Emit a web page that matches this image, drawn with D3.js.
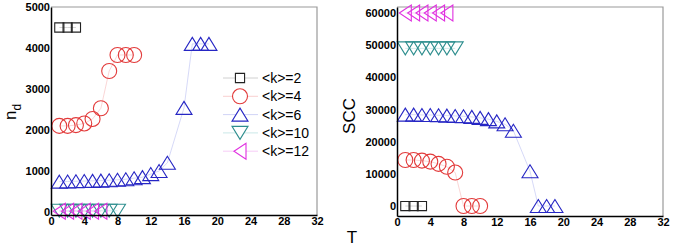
<!DOCTYPE html>
<html>
<head>
<meta charset="utf-8">
<script src="https://cdn.jsdelivr.net/npm/d3@7"></script>
<style>
  body { margin: 0; background: #fff; }
  svg { display: block; font-family: "Liberation Sans", Arial, sans-serif; }
</style>
</head>
<body>
<div id="chart"></div>
<script>
// series labels
const seriesNames = ["<k>=2", "<k>=4", "<k>=6", "<k>=10", "<k>=12"];

// time steps per series
const tK2 = [1, 2, 3];
const tK4 = [1, 2, 3, 4, 5, 6, 7, 8, 9, 10];
const tK6 = [1, 2, 3, 4, 5, 6, 7, 8, 9, 10, 11, 12, 13, 14, 16, 17, 18, 19];
const tK10left = [1, 2, 3, 4, 5, 6, 7, 8];
const tK10right = [1, 2, 3, 4, 5, 6, 7];
const tK12 = [1, 2, 3, 4, 5, 6];

// left panel: n_d
const ndK2 = [4500, 4500, 4500];
const ndK4 = [2100, 2100, 2120, 2160, 2270, 2530, 3440, 3830, 3830, 3830];
const ndK6 = [740, 745, 750, 755, 760, 765, 775, 785, 800, 825, 850, 925, 1000, 1200, 2540, 4100, 4100, 4100];
const ndK10 = [30, 30, 30, 30, 30, 30, 30, 30];
const ndK12 = [20, 20, 20, 20, 20, 20];

// right panel: SCC
const sccK2 = [0, 0, 0];
const sccK4 = [14300, 14300, 14100, 13800, 13100, 12200, 10400, 0, 0, 0];
const sccK6 = [28400, 28400, 28300, 28300, 28200, 28100, 28000, 27900, 27700, 27400, 27000, 26300, 25400, 23400, 10800, 0, 0, 0];
const sccK10 = [49000, 49000, 49000, 49000, 49000, 49000, 49000];
const sccK12 = [60000, 60000, 60000, 60000, 60000, 60000];

const xTicks = [0, 4, 8, 12, 16, 20, 24, 28, 32];
const ndTicks = [0, 1000, 2000, 3000, 4000, 5000];
const sccTicks = [0, 10000, 20000, 30000, 40000, 50000, 60000];

const colors = ["#222222", "#e23a3a", "#2626c4", "#2e8e8e", "#e030e0"];
const lineColors = ["#c4c4c4", "#f8c4c4", "#c4c8f4", "#bce2e2", "#f4c0f4"];

// custom marker shapes (data point at bounding box centre)
const triUp = { draw(c) { c.moveTo(0, -6.5); c.lineTo(8, 6.5); c.lineTo(-8, 6.5); c.closePath(); } };
const triDown = { draw(c) { c.moveTo(0, 6.5); c.lineTo(8, -6.5); c.lineTo(-8, -6.5); c.closePath(); } };
const triLeft = { draw(c) { c.moveTo(-6, 0); c.lineTo(6, -8); c.lineTo(6, 8); c.closePath(); } };
const shapes = [
  d3.symbol(d3.symbolSquare, 84),
  d3.symbol(d3.symbolCircle, Math.PI * 7.5 * 7.5),
  d3.symbol(triUp),
  d3.symbol(triDown),
  d3.symbol(triLeft)
];

const W = 673, H = 246;
const svg = d3.select("#chart").append("svg").attr("width", W).attr("height", H);

function drawPanel(cfg) {
  const x = d3.scaleLinear().domain([0, 32]).range([cfg.x0, cfg.x1]);
  const y = d3.scaleLinear().domain(cfg.yDomain).range([cfg.y1, cfg.y0]);
  const g = svg.append("g");

  // top / right frame
  g.append("path")
    .attr("d", `M${cfg.x0},${cfg.y0}H${cfg.x1}V${cfg.y1}`)
    .attr("fill", "none").attr("stroke", "#9a9a9a").attr("stroke-width", 1.2);

  const line = d3.line().x(d => x(d[0])).y(d => y(d[1]));
  cfg.series.forEach((s, i) => {
    const pts = s.t.map((t, j) => [t, s.v[j]]);
    g.append("path").datum(pts)
      .attr("d", line)
      .attr("fill", "none").attr("stroke", lineColors[i]).attr("stroke-width", 0.7);
    g.selectAll(null).data(pts).join("path")
      .attr("transform", d => `translate(${x(d[0])},${y(d[1])})`)
      .attr("d", shapes[i]())
      .attr("fill", "none").attr("stroke", colors[i]).attr("stroke-width", 1.1);
  });

  const xAxis = g.append("g")
    .attr("transform", `translate(0,${cfg.y1})`)
    .call(d3.axisBottom(x).tickValues(xTicks).tickSize(0).tickPadding(2));
  xAxis.select(".domain").attr("stroke", "#000").attr("stroke-width", 1.5);
  xAxis.selectAll("text").attr("font-size", 11).attr("font-weight", "bold").attr("fill", "#000")
    .attr("font-family", "Liberation Sans, Arial, sans-serif");

  const yAxis = g.append("g")
    .attr("transform", `translate(${cfg.x0},0)`)
    .call(d3.axisLeft(y).tickValues(cfg.yTicks).tickSize(0).tickPadding(1).tickFormat(d3.format("d")));
  yAxis.select(".domain").attr("stroke", "#000").attr("stroke-width", 1.5);
  yAxis.selectAll("text").attr("font-size", 11).attr("font-weight", "bold").attr("fill", "#000")
    .attr("font-family", "Liberation Sans, Arial, sans-serif");

  return g;
}

drawPanel({
  x0: 51, x1: 317, y0: 7, y1: 215,
  yDomain: [-73, 5000], yTicks: ndTicks,
  series: [
    { t: tK2, v: ndK2 }, { t: tK4, v: ndK4 }, { t: tK6, v: ndK6 },
    { t: tK10left, v: ndK10 }, { t: tK12, v: ndK12 }
  ]
});

drawPanel({
  x0: 397, x1: 663, y0: 7, y1: 216,
  yDomain: [-3100, 61860], yTicks: sccTicks,
  series: [
    { t: tK2, v: sccK2 }, { t: tK4, v: sccK4 }, { t: tK6, v: sccK6 },
    { t: tK10right, v: sccK10 }, { t: tK12, v: sccK12 }
  ]
});

// legend
const legend = svg.append("g");
seriesNames.forEach((name, i) => {
  const ly = 78 + i * 18.3;
  legend.append("line").attr("x1", 223).attr("x2", 258).attr("y1", ly).attr("y2", ly)
    .attr("stroke", lineColors[i]).attr("stroke-width", 0.8);
  legend.append("path").attr("transform", `translate(240,${ly})`).attr("d", shapes[i]())
    .attr("fill", "#fff").attr("stroke", colors[i]).attr("stroke-width", 1.1);
  legend.append("text").attr("x", 262).attr("y", ly + 5).attr("font-size", 14).text(name);
});

// axis titles
const ndLabel = svg.append("text").attr("transform", "translate(16,112) rotate(-90)")
  .attr("text-anchor", "middle").attr("font-size", 17);
ndLabel.append("tspan").text("n");
ndLabel.append("tspan").attr("font-size", 12).attr("dy", 5).text("d");

svg.append("text").attr("transform", "translate(355,116) rotate(-90)")
  .attr("text-anchor", "middle").attr("font-size", 17).text("SCC");

svg.append("text").attr("x", 352).attr("y", 243)
  .attr("text-anchor", "middle").attr("font-size", 17).text("T");
</script>
</body>
</html>
